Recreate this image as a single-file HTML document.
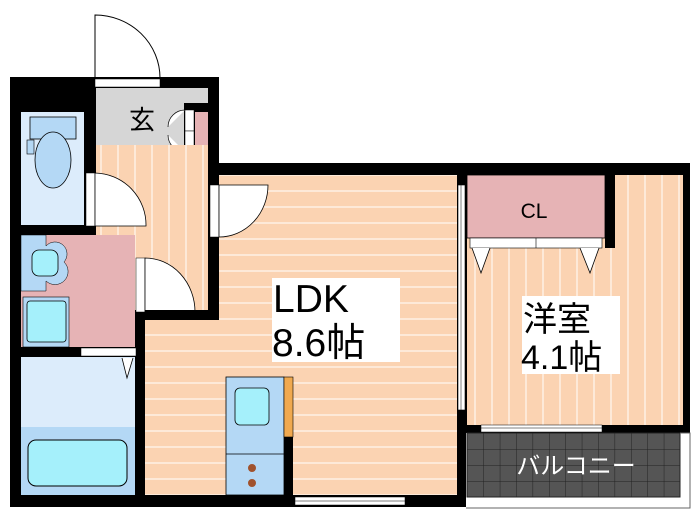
<!DOCTYPE html>
<html><head><meta charset="utf-8"><style>
html,body{margin:0;padding:0;background:#fff;width:700px;height:525px;overflow:hidden}
svg{display:block}
text{font-family:"Liberation Sans","Noto Sans CJK JP",sans-serif}
</style></head><body>
<svg width="700" height="525" viewBox="0 0 700 525" xmlns="http://www.w3.org/2000/svg">
<defs>
<pattern id="hs" width="10" height="16" patternUnits="userSpaceOnUse"><rect width="10" height="16" fill="#fbd3b2"/><rect y="14" width="10" height="2" fill="#fde9d8"/></pattern>
<pattern id="vs" width="17" height="10" patternUnits="userSpaceOnUse"><rect width="17" height="10" fill="#fbd3b2"/><rect x="15" width="2" height="10" fill="#fde9d8"/></pattern>
<pattern id="grid" width="16.4" height="16" patternUnits="userSpaceOnUse" x="467" y="433"><rect width="16.4" height="16" fill="#555"/><path d="M0 0H16.4M0 0V16" stroke="#222" stroke-width="1"/></pattern>
</defs>
<path d="M95 78V15A65 63 0 0 1 160 78" fill="#fff" stroke="#000" stroke-width="1"/>
<rect x="10" y="77" width="209" height="430" fill="#000"/>
<rect x="208" y="163" width="482" height="344" fill="#000"/>
<rect x="95" y="79" width="65" height="8" fill="#fff" stroke="#000" stroke-width="0.5"/>
<rect x="96" y="88" width="112" height="57" fill="#d6d6d6"/>
<rect x="184" y="103" width="24" height="54" fill="#000"/>
<rect x="195" y="112" width="13" height="38" fill="#e6b3b5"/>
<rect x="185" y="110" width="9" height="21" fill="#fff" stroke="#000" stroke-width="0.5"/>
<rect x="185" y="131" width="9" height="21" fill="#fff" stroke="#000" stroke-width="0.5"/>
<path d="M185 110A17 17 0 0 0 168 127" fill="#fff" stroke="#000" stroke-width="0.7"/>
<path d="M185 152A17 17 0 0 1 168 135" fill="#fff" stroke="#000" stroke-width="0.7"/>
<text x="142" y="129" font-size="26" text-anchor="middle">玄</text>
<rect x="96" y="145" width="112" height="165" fill="url(#vs)"/>
<rect x="21" y="112" width="63" height="113" fill="#dcecfb"/>
<rect x="30" y="117" width="46" height="22" fill="#b4d8f5" stroke="#000" stroke-width="0.8"/>
<rect x="27" y="140" width="7" height="14" fill="#b4d8f5" stroke="#000" stroke-width="0.6"/>
<ellipse cx="53" cy="160" rx="18" ry="28" fill="#b4d8f5" stroke="#000" stroke-width="0.8"/>
<rect x="86" y="173" width="9" height="53" fill="#fff" stroke="#000" stroke-width="0.5"/>
<path d="M95 173A52 52 0 0 1 146 226H95Z" fill="#fff" stroke="#000" stroke-width="0.8"/>
<rect x="21" y="235" width="114" height="112" fill="#e6b3b5"/>
<path d="M21 235H46V246A12 12 0 0 1 64 262A12 12 0 0 1 46 281V291H21Z" fill="#b4d8f5" stroke="#000" stroke-width="0.5"/>
<rect x="32" y="250" width="26" height="26" rx="7" fill="#a5f0fb" stroke="#000" stroke-width="0.8"/>
<rect x="23" y="297" width="46" height="50" fill="#b4d8f5" stroke="#000" stroke-width="0.6"/>
<rect x="27" y="301" width="39" height="41" rx="3" fill="#a5f0fb" stroke="#000" stroke-width="0.8"/>
<rect x="136" y="258" width="9" height="54" fill="#fff" stroke="#000" stroke-width="0.5"/>
<path d="M145 258A50 54 0 0 1 195 312H145Z" fill="#fff" stroke="#000" stroke-width="0.8"/>
<rect x="81" y="348" width="55" height="8" fill="#fff" stroke="#000" stroke-width="0.5"/>
<rect x="21" y="357" width="114" height="70" fill="#dcecfb"/>
<rect x="21" y="427" width="114" height="68" fill="#b4d8f5"/>
<rect x="28" y="440" width="99" height="46" rx="8" fill="#a5f0fb" stroke="#000" stroke-width="1"/>
<path d="M122 358L127 378L133 358" fill="#fff" stroke="#000" stroke-width="0.8"/>
<rect x="219" y="175" width="238" height="320" fill="url(#hs)"/>
<rect x="145" y="320" width="74" height="175" fill="url(#hs)"/>
<rect x="145" y="310" width="63" height="10" fill="#000"/>
<rect x="210" y="185" width="9" height="52" fill="#fff" stroke="#000" stroke-width="0.5"/>
<path d="M219 185H268A49 52 0 0 1 219 237Z" fill="#fff" stroke="#000" stroke-width="0.8"/>
<rect x="226" y="377" width="58" height="118" fill="#b4d8f5" stroke="#000" stroke-width="0.8"/>
<rect x="235" y="388" width="34" height="37" rx="5" fill="#a5f0fb" stroke="#000" stroke-width="0.8"/>
<line x1="226" y1="454" x2="284" y2="454" stroke="#000" stroke-width="0.8"/>
<circle cx="252" cy="468" r="4" fill="#a0522d"/>
<circle cx="252" cy="483" r="4" fill="#a0522d"/>
<rect x="284" y="377" width="9" height="60" fill="#f0a94f" stroke="#000" stroke-width="0.6"/>
<rect x="284" y="437" width="9" height="58" fill="#000"/>
<rect x="295" y="497" width="110" height="8" fill="#fff" stroke="#000" stroke-width="0.5"/>
<line x1="295" y1="501" x2="405" y2="501" stroke="#000" stroke-width="0.5"/>
<rect x="272" y="278" width="128" height="84" fill="#fff"/>
<text x="273" y="312" font-size="39">LDK</text>
<text x="272" y="356" font-size="39">8.6帖</text>
<rect x="458" y="185" width="7" height="225" fill="#fff" stroke="#000" stroke-width="0.6"/>
<line x1="461" y1="185" x2="461" y2="410" stroke="#000" stroke-width="0.5"/>
<rect x="467" y="175" width="216" height="250" fill="url(#vs)"/>
<rect x="605" y="163" width="10" height="85" fill="#000"/>
<rect x="467" y="175" width="138" height="63" fill="#e6b3b5" stroke="#000" stroke-width="0.8"/>
<rect x="470" y="238" width="132" height="10" fill="#fff" stroke="#000" stroke-width="0.6"/>
<line x1="536" y1="238" x2="536" y2="248" stroke="#000" stroke-width="0.6"/>
<path d="M472 248L481 273L490 248" fill="#fff" stroke="#000" stroke-width="0.8"/>
<path d="M580 248L590 273L599 248" fill="#fff" stroke="#000" stroke-width="0.8"/>
<text x="534" y="218" font-size="21" text-anchor="middle">CL</text>
<rect x="522" y="296" width="98" height="78" fill="#fff"/>
<text x="523" y="331" font-size="34">洋室</text>
<text x="521" y="369" font-size="34">4.1帖</text>
<rect x="481" y="425" width="121" height="7" fill="#fff" stroke="#000" stroke-width="0.5"/>
<line x1="481" y1="428" x2="602" y2="428" stroke="#000" stroke-width="0.5"/>
<rect x="466" y="433" width="224" height="75" fill="#fff"/>
<rect x="467" y="433" width="213" height="64" fill="url(#grid)" stroke="#222" stroke-width="1"/>
<path d="M680 433H690V508H466" fill="none" stroke="#666" stroke-width="1"/>
<text x="576" y="474" font-size="24" fill="#fff" text-anchor="middle">バルコニー</text>
</svg>
</body></html>
